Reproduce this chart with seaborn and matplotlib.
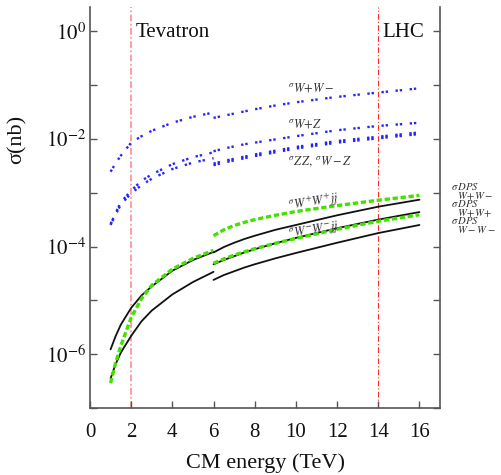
import matplotlib
matplotlib.use("Agg")
import matplotlib.pyplot as plt
import seaborn as sns
import pandas as pd
from matplotlib.ticker import FixedLocator, FixedFormatter, NullLocator

# ---------------- data (sigma in nb) ----------------
energy_tev = [1, 1.25, 1.5, 2, 2.5, 3, 4, 5, 6]                 # Tevatron-type segment
energy_lhc = [6, 6.5, 7, 7.5, 8, 9, 10, 12, 14, 16]             # LHC-type segment

ww_tev  = [2.455e-3, 3.548e-3, 4.898e-3, 8.511e-3, 1.122e-2, 1.413e-2, 1.995e-2, 2.570e-2, 3.090e-2]
wz_tev  = [2.630e-4, 4.266e-4, 6.607e-4, 1.096e-3, 1.660e-3, 2.188e-3, 3.388e-3, 4.571e-3, 5.623e-3]
zz_tev  = [2.512e-4, 3.981e-4, 6.026e-4, 9.772e-4, 1.380e-3, 1.820e-3, 2.754e-3, 3.631e-3, 4.365e-3]
dps_tev = [2.884e-7, 7.079e-7, 1.445e-6, 4.786e-6, 1.072e-5, 1.905e-5, 3.802e-5, 6.026e-5, 8.511e-5]
sps_hi_tev = [1.230e-6, 2.188e-6, 3.548e-6, 7.244e-6, 1.230e-5, 1.820e-5, 3.548e-5, 5.623e-5, 7.943e-5]
sps_lo_tev = [3.548e-7, 6.607e-7, 1.072e-6, 2.188e-6, 4.074e-6, 6.457e-6, 1.288e-5, 2.188e-5, 3.388e-5]

ww_lhc  = [2.455e-2, 2.692e-2, 2.951e-2, 3.236e-2, 3.548e-2, 4.169e-2, 4.786e-2, 6.026e-2, 7.244e-2, 8.710e-2]
wpz_lhc = [5.888e-3, 6.607e-3, 7.244e-3, 7.943e-3, 8.511e-3, 9.772e-3, 1.122e-2, 1.445e-2, 1.738e-2, 1.995e-2]
zz_lhc  = [3.467e-3, 3.890e-3, 4.266e-3, 4.677e-3, 5.129e-3, 6.026e-3, 7.079e-3, 9.120e-3, 1.096e-2, 1.318e-2]
wmz_lhc = [3.236e-3, 3.631e-3, 3.981e-3, 4.365e-3, 4.786e-3, 5.623e-3, 6.607e-3, 8.511e-3, 1.023e-2, 1.230e-2]
dps_wpwm_lhc = [1.585e-4, 2.042e-4, 2.455e-4, 2.818e-4, 3.162e-4, 3.802e-4, 4.467e-4, 5.754e-4, 7.244e-4, 8.913e-4]
wpwpjj_lhc   = [7.762e-5, 9.772e-5, 1.175e-4, 1.380e-4, 1.585e-4, 2.042e-4, 2.512e-4, 3.802e-4, 5.495e-4, 7.413e-4]
dps_wpwp_lhc = [4.898e-5, 5.888e-5, 6.918e-5, 7.943e-5, 9.120e-5, 1.148e-4, 1.413e-4, 2.089e-4, 2.951e-4, 3.890e-4]
wmwmjj_lhc   = [4.677e-5, 5.623e-5, 6.607e-5, 7.762e-5, 8.913e-5, 1.148e-4, 1.445e-4, 2.188e-4, 3.162e-4, 4.365e-4]
dps_wmwm_lhc = [2.399e-5, 2.951e-5, 3.467e-5, 4.074e-5, 4.677e-5, 6.026e-5, 7.586e-5, 1.175e-4, 1.778e-4, 2.512e-4]

x_ticks = [0, 2, 4, 6, 8, 10, 12, 14, 16]
y_ticks = [1e-7, 1e-6, 1e-5, 1e-4, 1e-3, 1e-2, 1e-1, 1e0]
y_tick_labels = ["", r"$10^{-6}$", "", r"$10^{-4}$", "", r"$10^{-2}$", "", r"$10^{0}$"]
machines = [(2, "Tevatron"), (14, "LHC")]
dps_labels = [r"${}^{\sigma}{}^{DPS}_{W\!+\!W-}$",
              r"${}^{\sigma}{}^{DPS}_{W\!+\!W\!+}$",
              r"${}^{\sigma}{}^{DPS}_{W-W-}$"]

# ---------------- style ----------------
sns.set_theme(style="ticks")
plt.rcParams["font.family"] = ["Liberation Serif", "DejaVu Serif"]
plt.rcParams["mathtext.fontset"] = "stix"

BLUE = "#2424ff"
GREEN = "#44e000"
BLACK = "#111111"
blue_ls = (0, (1, 0.8, 1, 3.2))
green_ls = (0, (1.6, 0.8))

fig = plt.figure(figsize=(5.01, 4.75), dpi=100)
ax = fig.add_axes([90 / 501, 67 / 475, 350 / 501, 401 / 475])

series = [
    (energy_tev, ww_tev, BLUE, blue_ls, 1.7),
    (energy_tev, wz_tev, BLUE, blue_ls, 1.7),
    (energy_tev, zz_tev, BLUE, blue_ls, 1.7),
    (energy_lhc, ww_lhc, BLUE, blue_ls, 1.7),
    (energy_lhc, wpz_lhc, BLUE, blue_ls, 1.7),
    (energy_lhc, zz_lhc, BLUE, blue_ls, 1.7),
    (energy_lhc, wmz_lhc, BLUE, blue_ls, 1.7),
    (energy_tev, sps_hi_tev, BLACK, "-", 1.3),
    (energy_tev, sps_lo_tev, BLACK, "-", 1.3),
    (energy_tev, dps_tev, GREEN, green_ls, 2.4),
    (energy_lhc, wpwpjj_lhc, BLACK, "-", 1.3),
    (energy_lhc, wmwmjj_lhc, BLACK, "-", 1.3),
    (energy_lhc, dps_wmwm_lhc, BLACK, "-", 1.3),
    (energy_lhc, dps_wpwm_lhc, GREEN, green_ls, 2.4),
    (energy_lhc, dps_wpwp_lhc, GREEN, green_ls, 2.4),
]
for ex, sig, col, ls, lw in series:
    df = pd.DataFrame({"E": ex, "sigma": sig})
    sns.lineplot(data=df, x="E", y="sigma", ax=ax, color=col, linestyle=ls,
                 linewidth=lw, estimator=None, sort=False, legend=False)

ax.axvline(machines[0][0], color="#ff8c8c", lw=1.2, ls=(0, (4, 1.5, 1, 1.5)), zorder=0.5)
ax.axvline(machines[1][0], color="#ff2a2a", lw=0.8, ls=(0, (5, 2, 1, 2)), zorder=0.5)

ax.set_yscale("log")
ax.set_xlim(0, 17)
ax.set_ylim(1e-7, 10 ** 0.45)

ax.xaxis.set_major_locator(FixedLocator(x_ticks))
ax.yaxis.set_major_locator(FixedLocator(y_ticks))
ax.yaxis.set_major_formatter(FixedFormatter(y_tick_labels))
ax.yaxis.set_minor_locator(NullLocator())
ax.set_xticklabels([str(v) for v in x_ticks])

ax.tick_params(axis="both", which="both", direction="in", length=5, width=1,
               color="#555555", labelsize=15, labelcolor="#111111")
ax.tick_params(axis="x", pad=11)
ax.tick_params(axis="y", pad=3, right=True, labelright=False)

for s in ["left", "right", "bottom"]:
    ax.spines[s].set_color("#555555")
    ax.spines[s].set_linewidth(1.2)
ax.spines["top"].set_visible(False)

ax.set_xlabel("CM energy (TeV)", fontsize=16, color="#111111", labelpad=8)
ax.set_ylabel("σ(nb)", fontsize=16, color="#111111")
ax.yaxis.set_label_coords(-0.18, 0.67)

ax.text(2.2, 0.95, machines[0][1], fontsize=15, ha="left", va="center", color="#111111")
ax.text(14.2, 0.95, machines[1][1], fontsize=15, ha="left", va="center", color="#111111")

lab_kw = dict(fontsize=9, color="#333333", ha="left", va="center")
ax.text(9.6, 0.088, r"${}^{\sigma}W\!+\!W-$", **lab_kw)
ax.text(9.6, 0.019, r"${}^{\sigma}W\!+\!Z$", **lab_kw)
ax.text(9.6, 3.7e-3, r"${}^{\sigma}Z\,Z,\,{}^{\sigma}W-Z$", **lab_kw)
ax.text(9.6, 6.6e-4, r"${}^{\sigma}W^{+}W^{+}jj$", rotation=9, **lab_kw)
ax.text(9.6, 2.0e-4, r"${}^{\sigma}W^{-}W^{-}jj$", rotation=9, **lab_kw)

# DPS labels at the right, outside the axes (figure pixel positions)
W, H = 501, 475
for i, lab in enumerate(dps_labels):
    y0 = 192 + i * 17
    fig.text(451 / W, 1 - y0 / H, lab, fontsize=11, color="#333333",
             ha="left", va="center")

fig.savefig("out.png", dpi=100)
